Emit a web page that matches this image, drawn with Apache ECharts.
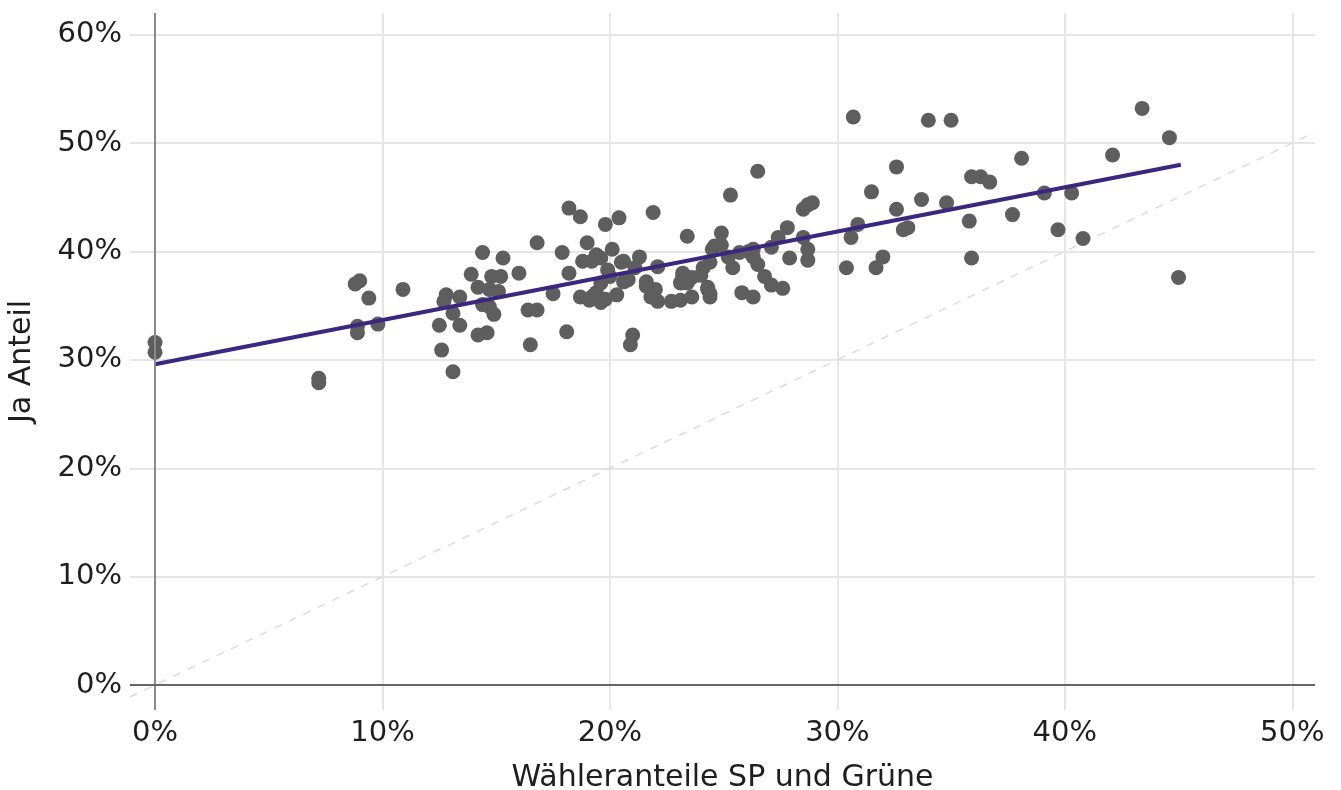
<!DOCTYPE html>
<html>
<head>
<meta charset="utf-8">
<script src="https://cdn.jsdelivr.net/npm/echarts@6/dist/echarts.min.js"></script>
<style>
html,body{margin:0;padding:0;background:#fff;}
#chart{width:1341px;height:790px;}
</style>
</head>
<body>
<div id="chart"></div>
<script>
// Wähleranteile SP und Grüne (%)
const xValues = [
  0, 0, 7.2, 7.2, 8.8, 9.0, 9.4, 8.9, 8.9, 9.8,
  10.9, 12.8, 12.7, 13.4, 12.5, 13.1, 13.4, 12.6, 13.1, 13.9,
  14.4, 15.3, 14.2, 14.8, 15.2, 14.7, 15.1, 14.4, 14.7, 14.9,
  14.2, 14.6, 16.0, 16.8, 16.4, 16.8, 16.5, 18.2, 18.7, 19.8,
  20.4, 21.9, 25.3, 23.4, 24.9, 17.9, 19.0, 18.8, 18.2, 17.5,
  18.1, 21.0, 20.9, 19.4, 20.1, 19.9, 20.5, 20.8, 21.3, 21.1,
  18.7, 19.1, 19.6, 19.4, 22.1, 21.6, 21.8, 22.1, 22.0, 22.7,
  23.1, 23.6, 23.2, 23.1, 23.6, 24.1, 24.3, 24.4, 24.5, 24.9,
  25.4, 25.8, 26.3, 26.1, 19.6, 19.2, 20.6, 20.0, 19.6, 19.3,
  20.6, 21.6, 21.9, 23.2, 23.4, 24.0, 24.4, 24.3, 24.4, 24.6,
  26.5, 25.2, 25.7, 26.3, 26.3, 26.5, 26.8, 27.1, 27.6, 27.1,
  27.4, 27.8, 27.9, 28.5, 28.7, 28.9, 28.5, 28.7, 28.7, 30.4,
  30.6, 30.9, 31.5, 32.0, 31.7, 32.6, 32.6, 32.9, 33.1, 33.7,
  34.8, 30.7, 34.0, 35.0, 35.9, 36.3, 36.7, 38.1, 39.1, 40.3,
  42.1, 43.4, 44.6, 45.0, 37.7, 35.8, 39.7, 40.8, 35.9,
  19.8, 19.2, 20.3
];
// Ja Anteil (%)
const yValues = [
  31.6, 30.7, 28.3, 27.9, 37.0, 37.3, 35.7, 33.1, 32.5, 33.3,
  36.5, 36.0, 35.4, 35.8, 33.2, 34.3, 33.2, 30.9, 28.9, 37.9,
  39.9, 39.4, 36.7, 37.7, 37.7, 36.5, 36.3, 35.1, 34.9, 34.2,
  32.3, 32.5, 38.0, 40.8, 34.6, 34.6, 31.4, 44.0, 43.2, 42.5,
  43.1, 43.6, 45.2, 41.4, 41.7, 39.9, 40.8, 39.1, 38.0, 36.1,
  32.6, 32.3, 31.4, 39.7, 40.2, 38.3, 39.0, 37.4, 39.5, 38.5,
  35.8, 35.5, 35.3, 36.2, 38.6, 36.8, 35.8, 35.4, 36.5, 35.4,
  35.5, 35.8, 38.0, 37.1, 37.6, 38.5, 36.7, 35.8, 40.2, 40.6,
  38.5, 36.2, 35.8, 40.0, 39.4, 39.1, 39.1, 37.7, 37.1, 35.9,
  37.2, 37.2, 36.2, 37.7, 37.1, 37.8, 39.0, 36.5, 36.1, 40.5,
  47.4, 39.5, 39.9, 39.5, 40.2, 38.8, 37.7, 36.9, 36.6, 40.4,
  41.3, 42.2, 39.4, 43.9, 44.3, 44.5, 41.3, 40.2, 39.2, 38.5,
  41.3, 42.5, 45.5, 39.5, 38.5, 47.8, 43.9, 42.0, 42.2, 44.8,
  44.5, 52.4, 52.1, 52.1, 46.9, 46.9, 46.4, 48.6, 45.4, 45.4,
  48.9, 53.2, 50.5, 37.6, 43.4, 42.8, 42.0, 41.2, 39.4,
  35.6, 35.8, 36.0
];
// Regression line endpoints
const trendX = [0, 45.1];
const trendY = [29.6, 48.0];
// Reference diagonal (y = x) across the axis range
const diagX = [-1.1, 51];
const diagY = [-1.1, 51];

const xTicks = [0, 10, 20, 30, 40, 50];
const yTicks = [0, 10, 20, 30, 40, 50, 60];
const xRange = [-1.1, 51];
const yRange = [-2.3, 62];

const points = xValues.map((x, i) => [x, yValues[i]]);
const trend = trendX.map((x, i) => [x, trendY[i]]);
const diag = diagX.map((x, i) => [x, diagY[i]]);

const FONT = 'DejaVu Sans';
const TXT = '#1e1e1e';
const chart = echarts.init(document.getElementById('chart'), null, {renderer: 'canvas'});
chart.setOption({
  animation: false,
  backgroundColor: '#ffffff',
  grid: {left: 130, right: 26, top: 13, bottom: 80, containLabel: false, outerBoundsMode: 'none'},
  xAxis: {
    type: 'value', min: xRange[0], max: xRange[1],
    name: 'Wähleranteile SP und Grüne', nameLocation: 'middle', nameGap: 53,
    nameTextStyle: {fontFamily: FONT, fontSize: 30, color: TXT},
    axisLine: {show: false, onZero: false},
    axisTick: {show: false, customValues: xTicks},
    axisLabel: {customValues: xTicks, formatter: v => v + '%', fontFamily: FONT, fontSize: 29, color: TXT, margin: 9},
    splitLine: {show: true, lineStyle: {color: '#e6e6e6', width: 2}}
  },
  yAxis: {
    type: 'value', min: yRange[0], max: yRange[1],
    name: 'Ja Anteil', nameLocation: 'middle', nameGap: 93,
    nameTextStyle: {fontFamily: FONT, fontSize: 30, color: TXT},
    axisLine: {show: false, onZero: false},
    axisTick: {show: false, customValues: yTicks},
    axisLabel: {customValues: yTicks, formatter: v => v + '%', fontFamily: FONT, fontSize: 29, color: TXT, margin: 8},
    splitLine: {show: true, lineStyle: {color: '#e6e6e6', width: 2}}
  },
  series: [
    {
      type: 'line', data: diag, showSymbol: false, silent: true, z: 1,
      lineStyle: {color: '#dcdcdc', width: 1.5, type: [8, 8]}
    },
    {
      type: 'scatter', data: points, symbolSize: 15, z: 3,
      itemStyle: {color: '#5e5e5e', opacity: 1},
      markLine: {
        silent: true, symbol: 'none', label: {show: false},
        data: [
          {xAxis: 0, lineStyle: {color: '#8a8a8a', width: 2, type: 'solid'}},
          {yAxis: 0, lineStyle: {color: '#666666', width: 2, type: 'solid'}}
        ]
      }
    },
    {
      type: 'line', data: trend, showSymbol: false, silent: true, z: 4,
      lineStyle: {color: '#3a2880', width: 4}
    }
  ]
});
</script>
</body>
</html>
